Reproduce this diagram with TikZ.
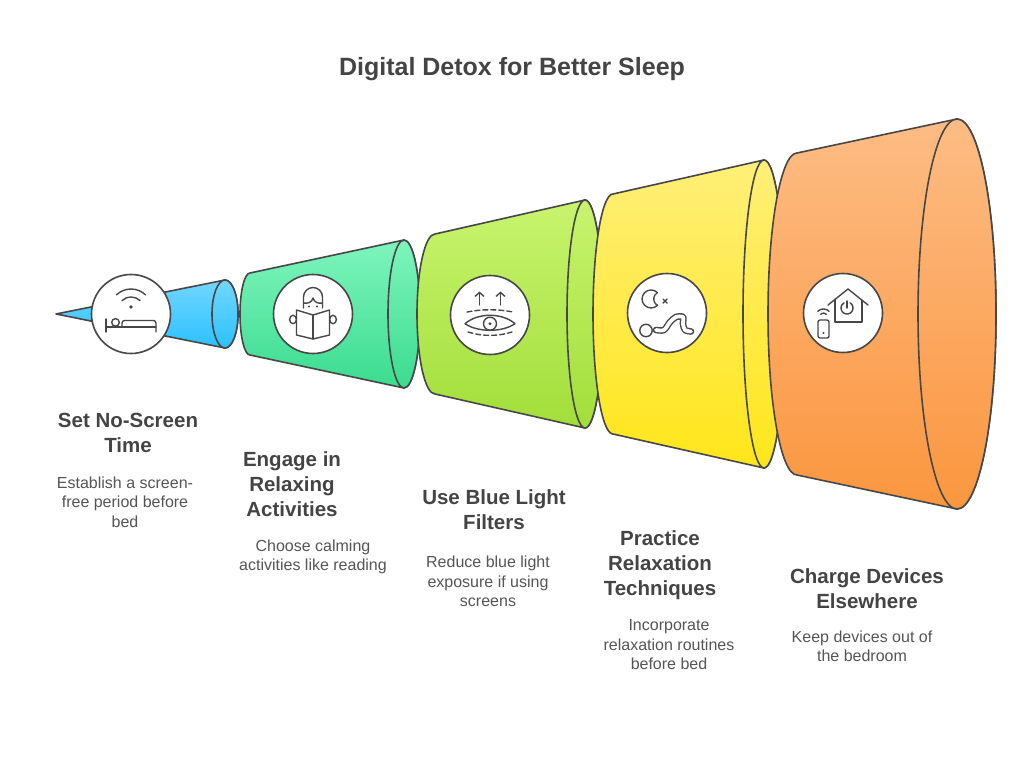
\documentclass[tikz,border=0pt]{standalone}
\usepackage{fontspec}
\setmainfont{Liberation Sans}
\usepackage{xcolor}
\usepackage{tikz}
\usetikzlibrary{arrows.meta, positioning}
\definecolor{edge}{HTML}{474747}
\definecolor{txtdark}{HTML}{444444}
\definecolor{txtsoft}{HTML}{555555}
\definecolor{blueT}{HTML}{72D6FF}
\definecolor{blueB}{HTML}{2BC1FF}
\definecolor{greenT}{HTML}{7EF5BD}
\definecolor{greenB}{HTML}{3BDB8F}
\definecolor{limeT}{HTML}{C8F46E}
\definecolor{limeB}{HTML}{A2DE3A}
\definecolor{yellowT}{HTML}{FFEF78}
\definecolor{yellowB}{HTML}{FFE61A}
\definecolor{orangeT}{HTML}{FDBC84}
\definecolor{orangeB}{HTML}{FB963F}
\tikzstyle{seg} = [draw=edge, line width=1.6pt, line join=round]
\tikzstyle{badge} = [circle, draw=edge, fill=white, line width=1.6pt, minimum size=79pt, inner sep=0pt]
\tikzstyle{icon} = [draw=edge, line width=1.4pt, line cap=round, line join=round]
\tikzstyle{heading} = [font=\bfseries\fontsize{20.5}{25}\selectfont, text=txtdark, align=center, inner sep=0pt]
\tikzstyle{desc} = [font=\fontsize{16}{19.5}\selectfont, text=txtsoft, align=center, inner sep=0pt]

\begin{document}
\begin{tikzpicture}[x=1pt, y=-1pt]
\useasboundingbox (0,0) rectangle (1024,758);
\fill[white] (0,0) rectangle (1024,758);

% Title
\node (title) [font=\bfseries\fontsize{25}{30}\selectfont, text=txtdark, anchor=base] at (512,75) {Digital Detox for Better Sleep};

% Funnel segments
\draw [seg, top color=blueT, bottom color=blueB] (56,314) -- (225,280) arc[start angle=-90, end angle=90, x radius=13, y radius=34] -- cycle;
\draw [seg, top color=blueT, bottom color=blueB] (225,314) ellipse [x radius=13, y radius=34];

\draw [seg, top color=greenT, bottom color=greenB] (250,273) -- (404,240) arc[start angle=-90, end angle=90, x radius=16, y radius=74] -- (250,355) arc[start angle=90, end angle=270, x radius=10, y radius=41] -- cycle;
\draw [seg, top color=greenT, bottom color=greenB] (404,314) ellipse [x radius=16, y radius=74];

\draw [seg, top color=limeT, bottom color=limeB] (435,234) -- (585,200) arc[start angle=-90, end angle=90, x radius=18, y radius=114] -- (435,394) arc[start angle=90, end angle=270, x radius=18, y radius=80] -- cycle;
\draw [seg, top color=limeT, bottom color=limeB] (585,314) ellipse [x radius=18, y radius=114];

\draw [seg, top color=yellowT, bottom color=yellowB] (613,194) -- (764,160) arc[start angle=-90, end angle=90, x radius=21, y radius=154] -- (613,434) arc[start angle=90, end angle=270, x radius=20, y radius=120] -- cycle;
\draw [seg, top color=yellowT, bottom color=yellowB] (764,314) ellipse [x radius=21, y radius=154];

\draw [seg, top color=orangeT, bottom color=orangeB] (797,153) -- (957,119) arc[start angle=-90, end angle=90, x radius=39, y radius=195] -- (797,475) arc[start angle=90, end angle=270, x radius=29, y radius=161] -- cycle;
\draw [seg, top color=orangeT, bottom color=orangeB] (957,314) ellipse [x radius=39, y radius=195];

% Badges
\node (b1) [badge] at (131,314) {};
\node (b2) [badge] at (313,314) {};
\node (b3) [badge] at (490,315) {};
\node (b4) [badge] at (667,313) {};
\node (b5) [badge] at (843,313) {};

% Icon: bed and wifi
\begin{scope}[shift={(b1.center)}]
\fill[edge] (0,-7) circle (1.8);
\draw [icon] (-9.0,-13.4) arc[start angle=-134, end angle=-46, radius=13];
\draw [icon] (-14.6,-19.1) arc[start angle=-134, end angle=-46, radius=21];
\draw [icon] (-25,5) -- (-25,18);
\draw [icon] (-25,13) -- (25,13);
\draw [icon] (-15.5,8.4) circle (3.8);
\draw [icon, rounded corners=2.5pt] (-9,13) -- (-9,6.5) -- (25,6.5) -- (25,18);
\end{scope}

% Icon: reading
\begin{scope}[shift={(b2.center)}]
\draw [icon] (-9.5,-6) -- (-9.5,-17) arc[start angle=180, end angle=360, radius=9.5] -- (9.5,-6);
\draw [icon] (-9.5,-11) .. controls (-5,-10) and (-1,-12) .. (0,-16) .. controls (1,-12) and (5,-10) .. (9.5,-11);
\fill[edge] (-4,-7.5) circle (1.1);
\fill[edge] (4,-7.5) circle (1.1);
\draw [icon, fill=white] (-20,5.5) ellipse [x radius=3.4, y radius=4.2];
\draw [icon, fill=white] (20,5.5) ellipse [x radius=3.4, y radius=4.2];
\draw [icon, fill=white] (0,1) -- (-16.5,-4) -- (-16.5,21) -- (0,25) -- (16.5,21) -- (16.5,-4) -- cycle;
\draw [icon] (0,1) -- (0,25);
\end{scope}

% Icon: eye and filter
\begin{scope}[shift={(b3.center)}]
\draw [icon, -{Straight Barb[length=4pt, width=9pt]}] (-10.5,-10) -- (-10.5,-23.5);
\draw [icon, -{Straight Barb[length=4pt, width=9pt]}] (10.5,-10) -- (10.5,-23.5);
\draw [icon, dash pattern=on 5pt off 3pt] (-23,-3) .. controls (-8,-6) and (8,-6) .. (23,-3);
\draw [icon, dash pattern=on 5pt off 3pt] (-22,17) .. controls (-8,21.5) and (8,21.5) .. (22,17);
\draw [icon] (-25,8.7) .. controls (-12,-2.5) and (12,-2.5) .. (25,8.7) .. controls (12,17.5) and (-12,17.5) .. (-25,8.7) -- cycle;
\draw [icon] (0,8.7) circle (6.5);
\fill[edge] (0,8.7) circle (1.6);
\end{scope}

% Icon: moon and stretching figure
\begin{scope}[shift={(b4.center)}]
\draw [icon] (-9.6,-20.4) arc[start angle=-45, end angle=-315, radius=9] arc[start angle=120.5, end angle=239.5, radius=7.4];
\draw [icon] (-4,-14) -- (0,-10);
\draw [icon] (0,-14) -- (-4,-10);
\draw [icon] (-21,17.5) circle (6.2);
\draw [icon, double=white, double distance=3.8pt] plot[smooth] coordinates {(-11,17) (-3,17) (3,9) (9,4) (16,4) (16,11) (18,17) (24,18.5)};
\end{scope}

% Icon: house and phone
\begin{scope}[shift={(b5.center)}]
\draw [icon] (-15,-8) -- (5,-24) -- (25,-8);
\draw [icon] (-8,-13.6) -- (-8,9) -- (19,9) -- (19,-12.8);
\draw [icon] (4,-12) -- (4,-5);
\draw [icon] (7,-10.2) arc[start angle=-60, end angle=240, radius=6];
\draw [icon, rounded corners=2pt] (-25,7) rectangle (-14,25);
\fill[edge] (-19.5,20) circle (1.2);
\draw [icon] (-22.3,1.2) arc[start angle=-135, end angle=-45, radius=4];
\draw [icon] (-25.2,-1.7) arc[start angle=-135, end angle=-45, radius=8];
\end{scope}

% Headings
\node (t1) [heading] at (128,432.5) {Set No-Screen\\Time};
\node (t2) [heading] at (292,484) {Engage in\\Relaxing\\Activities};
\node (t3) [heading] at (494,510) {Use Blue Light\\Filters};
\node (t4) [heading] at (660,565) {Practice\\Relaxation\\Techniques};
\node (t5) [heading] at (867,588.5) {Charge Devices\\Elsewhere};

% Descriptions
\node (d1) [desc, below=24pt of t1, xshift=-3pt] {Establish a screen-\\free period before\\bed};
\node (d2) [desc, below=22.5pt of t2, xshift=21pt] {Choose calming\\activities like reading};
\node (d3) [desc, below=25.5pt of t3, xshift=-6pt] {Reduce blue light\\exposure if using\\screens};
\node (d4) [desc, below=20pt of t4, xshift=9pt] {Incorporate\\relaxation routines\\before bed};
\node (d5) [desc, below=21.5pt of t5, xshift=-5pt] {Keep devices out of\\the bedroom};

\end{tikzpicture}
\end{document}
